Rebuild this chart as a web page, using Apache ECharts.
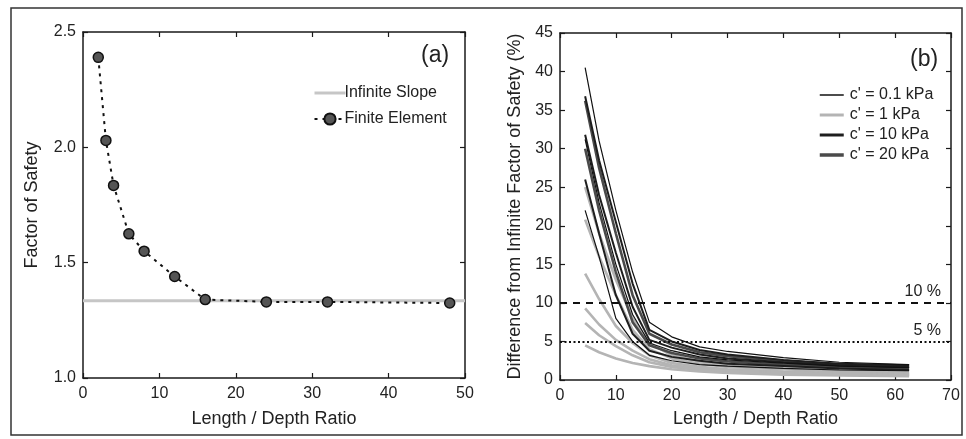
<!DOCTYPE html>
<html>
<head>
<meta charset="utf-8">
<title>Factor of Safety vs Length / Depth Ratio</title>
<script src="https://cdn.jsdelivr.net/npm/echarts@6/dist/echarts.min.js"></script>
<style>
    html, body { margin: 0; padding: 0; background: #fff; }
    #chart { width: 966px; height: 439px; }
</style>
</head>
<body>
<div id="chart"></div>
<script>
// panel (a)
let ratioA = [2, 3, 4, 6, 8, 12, 16, 24, 32, 48];
let fosFinite = [2.39, 2.03, 1.835, 1.625, 1.55, 1.44, 1.34, 1.33, 1.33, 1.325];
let fosInfinite = 1.335;
let infRange = [0, 50];

// panel (b) - every curve shares the same L/D points
let ratioB = [4.5, 7, 10, 13, 16, 20, 25, 30, 40, 50, 62.5];

let diffC01 = [
    [40.5, 31, 22, 14, 7.5, 5.6, 4.3, 3.7, 2.9, 2.3, 2.0],
    [31.2, 23, 15, 8.5, 4.8, 3.8, 3.0, 2.6, 2.2, 1.8, 1.6],
    [22, 16, 8, 5, 3.2, 2.5, 2.0, 1.8, 1.5, 1.3, 1.2]
];
let diffC1 = [
    [25, 19, 13, 8, 4.8, 3.2, 2.4, 2.0, 1.6, 1.3, 1.1],
    [20.8, 16, 11, 6.5, 4.0, 2.8, 2.1, 1.7, 1.4, 1.1, 0.9],
    [13.8, 10.5, 7, 4.8, 3.2, 2.2, 1.7, 1.4, 1.1, 0.9, 0.8],
    [9.3, 7.2, 5.2, 3.8, 2.7, 1.9, 1.5, 1.2, 1.0, 0.8, 0.7],
    [7.4, 5.8, 4.4, 3.2, 2.3, 1.7, 1.3, 1.1, 0.9, 0.7, 0.6],
    [4.5, 3.6, 2.8, 2.2, 1.8, 1.4, 1.1, 0.9, 0.7, 0.6, 0.5]
];
let diffC10 = [
    [36.8, 28.5, 20.5, 12.5, 6.5, 5.0, 3.9, 3.3, 2.6, 2.1, 1.9],
    [31.8, 24, 16.5, 9.5, 5.2, 4.2, 3.3, 2.8, 2.3, 1.9, 1.7],
    [26, 19, 11, 6, 3.8, 3.0, 2.5, 2.1, 1.8, 1.5, 1.3]
];
let diffC20 = [
    [36.2, 27.5, 19, 11, 6, 4.6, 3.6, 3.1, 2.5, 2.0, 1.8],
    [30, 22, 14, 7.5, 4.5, 3.5, 2.8, 2.4, 2.0, 1.7, 1.5]
];
let limitLines = [10, 5];

let fontFam = '"Liberation Sans", Arial, sans-serif';
let axisCol = '#1a1a1a';

function pairs(xs, ys) {
    let out = [];
    for (let i = 0; i < xs.length; i++) {
        out.push([xs[i], ys[i]]);
    }
    return out;
}

function axisPair(dim, grid, min, max, interval, pos, showLabel, fmt) {
    return {
        type: 'value',
        gridIndex: grid,
        position: pos,
        min: min,
        max: max,
        interval: interval,
        axisLine: { show: true, onZero: false, lineStyle: { color: axisCol, width: 1.5 } },
        axisTick: { show: true, inside: true, length: 5, lineStyle: { color: axisCol, width: 1.2 } },
        splitLine: { show: false },
        axisLabel: {
            show: showLabel,
            margin: dim === 'y' ? 7 : 8,
            fontSize: 16,
            fontFamily: fontFam,
            color: '#222',
            formatter: fmt
        }
    };
}

let groups = [
    { name: "c' = 1 kPa", curves: diffC1, color: '#b4b4b4', width: 2.6 },
    { name: "c' = 20 kPa", curves: diffC20, color: '#4a4a4a', width: 2.6 },
    { name: "c' = 10 kPa", curves: diffC10, color: '#1e1e1e', width: 2 },
    { name: "c' = 0.1 kPa", curves: diffC01, color: '#111', width: 1.2 }
];

let series = [
    {
        name: 'Infinite Slope',
        type: 'line',
        xAxisIndex: 0,
        yAxisIndex: 0,
        symbol: 'none',
        lineStyle: { color: '#c6c6c6', width: 3 },
        itemStyle: { color: '#c6c6c6' },
        data: pairs(infRange, [fosInfinite, fosInfinite])
    },
    {
        name: 'Finite Element',
        type: 'line',
        xAxisIndex: 0,
        yAxisIndex: 0,
        symbol: 'circle',
        symbolSize: 10,
        lineStyle: { color: '#111', width: 2, type: [3, 5] },
        itemStyle: { color: '#555', borderColor: '#111', borderWidth: 1.5 },
        data: pairs(ratioA, fosFinite)
    }
];

groups.forEach(function (g) {
    g.curves.forEach(function (c) {
        series.push({
            name: g.name,
            type: 'line',
            xAxisIndex: 2,
            yAxisIndex: 2,
            symbol: 'none',
            lineStyle: { color: g.color, width: g.width },
            itemStyle: { color: g.color },
            data: pairs(ratioB, c)
        });
    });
});

// 10 % and 5 % limits
series.push({
    name: 'limits',
    type: 'line',
    xAxisIndex: 2,
    yAxisIndex: 2,
    data: [],
    markLine: {
        symbol: 'none',
        silent: true,
        label: {
            position: 'insideEndTop',
            fontSize: 16,
            fontFamily: fontFam,
            color: '#222',
            distance: [10, 3]
        },
        data: [
            { yAxis: limitLines[0], lineStyle: { color: '#111', width: 2, type: [7, 6] }, label: { formatter: '10 %' } },
            { yAxis: limitLines[1], lineStyle: { color: '#111', width: 2, type: [2, 2.5] }, label: { formatter: '5 %' } }
        ]
    }
});

let nameStyle = { fontSize: 18, fontFamily: fontFam, color: '#222' };
let noMark = { opacity: 0 };

let option = {
    animation: false,
    backgroundColor: '#fff',
    textStyle: { fontFamily: fontFam },
    grid: [
        { left: 83, right: 501, top: 32, bottom: 61 },
        { left: 560, right: 15, top: 33, bottom: 59 }
    ],
    xAxis: [
        Object.assign(axisPair('x', 0, 0, 50, 10, 'bottom', true), {
            name: 'Length / Depth Ratio', nameLocation: 'middle', nameGap: 32, nameTextStyle: nameStyle
        }),
        axisPair('x', 0, 0, 50, 10, 'top', false),
        Object.assign(axisPair('x', 1, 0, 70, 10, 'bottom', true), {
            name: 'Length / Depth Ratio', nameLocation: 'middle', nameGap: 30, nameTextStyle: nameStyle
        }),
        axisPair('x', 1, 0, 70, 10, 'top', false)
    ],
    yAxis: [
        Object.assign(axisPair('y', 0, 1, 2.5, 0.5, 'left', true, function (v) { return v.toFixed(1); }), {
            name: 'Factor of Safety', nameLocation: 'middle', nameGap: 42, nameTextStyle: nameStyle
        }),
        axisPair('y', 0, 1, 2.5, 0.5, 'right', false),
        Object.assign(axisPair('y', 1, 0, 45, 5, 'left', true), {
            name: 'Difference from Infinite Factor of Safety (%)', nameLocation: 'middle', nameGap: 36, nameTextStyle: nameStyle
        }),
        axisPair('y', 1, 0, 45, 5, 'right', false)
    ],
    legend: [
        {
            data: [
                { name: 'Infinite Slope', itemStyle: noMark, lineStyle: { width: 3 } },
                { name: 'Finite Element' }
            ],
            orient: 'vertical',
            left: 308,
            top: 80,
            itemWidth: 31,
            itemHeight: 14,
            itemGap: 10,
            textStyle: { fontSize: 16, fontFamily: fontFam, color: '#222', padding: [0, 0, 0, -6] }
        },
        {
            data: [
                { name: "c' = 0.1 kPa", itemStyle: noMark, lineStyle: { width: 1.5 } },
                { name: "c' = 1 kPa", itemStyle: noMark, lineStyle: { width: 3 } },
                { name: "c' = 10 kPa", itemStyle: noMark, lineStyle: { width: 3 } },
                { name: "c' = 20 kPa", itemStyle: noMark, lineStyle: { width: 3.5 } }
            ],
            orient: 'vertical',
            left: 813,
            top: 82,
            itemWidth: 24,
            itemHeight: 14,
            itemGap: 4,
            textStyle: { fontSize: 16, fontFamily: fontFam, color: '#222', padding: [0, 0, 0, 1] }
        }
    ],
    graphic: [
        { type: 'text', left: 421, top: 44, style: { text: '(a)', fontSize: 23, fontFamily: fontFam, fill: '#222' } },
        { type: 'text', left: 910, top: 48, style: { text: '(b)', fontSize: 23, fontFamily: fontFam, fill: '#222' } },
        { type: 'rect', shape: { x: 11, y: 8, width: 951, height: 427 }, style: { fill: 'none', stroke: '#333', lineWidth: 1.5 } }
    ],
    series: series
};

let chart = echarts.init(document.getElementById('chart'));
chart.setOption(option);
</script>
</body>
</html>
